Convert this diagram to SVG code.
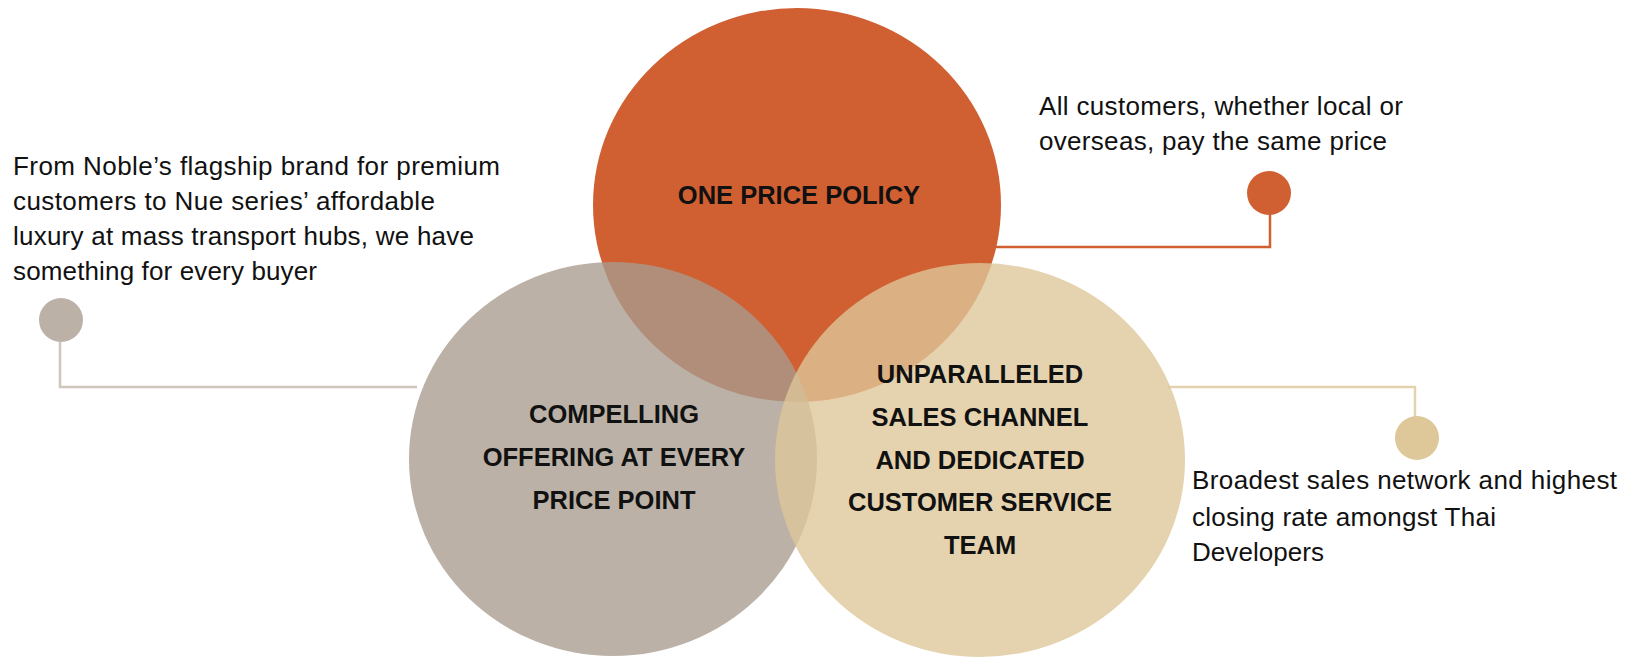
<svg xmlns="http://www.w3.org/2000/svg" width="1627" height="663" viewBox="0 0 1627 663">
<style>
.title{font-family:"Liberation Sans",Arial,sans-serif;font-size:25.5px;font-weight:bold;fill:#111;text-anchor:middle}
.note{font-family:"Liberation Sans",Arial,sans-serif;font-size:26px;fill:#111}
.ln{fill:none;stroke-width:2.5}
</style>
<rect width="1627" height="663" fill="#ffffff"/>
<g id="connectors">
<polyline class="ln" stroke="#CFC6BD" points="60,342 60,387 417,387"/>
<polyline class="ln" stroke="#D06032" points="995,247 1270,247 1270,213"/>
<polyline class="ln" stroke="#E3D2AE" points="1168,387 1415,387 1415,417"/>
</g>
<g id="node-one-price">
<ellipse cx="797" cy="205" rx="204" ry="197" fill="#D06032"/>
<text class="title" x="799" y="204" font-size="28">ONE PRICE POLICY</text>
</g>
<g id="node-compelling">
<ellipse cx="613" cy="459" rx="204" ry="197" fill="#A89B8E" fill-opacity="0.78"/>
<text class="title" x="614" y="423">COMPELLING</text>
<text class="title" x="614" y="466">OFFERING AT EVERY</text>
<text class="title" x="614" y="509">PRICE POINT</text>
</g>
<g id="node-sales">
<ellipse cx="980" cy="460" rx="205" ry="197" fill="#DEC798" fill-opacity="0.78"/>
<text class="title" x="980" y="383">UNPARALLELED</text>
<text class="title" x="980" y="426">SALES CHANNEL</text>
<text class="title" x="980" y="469">AND DEDICATED</text>
<text class="title" x="980" y="511">CUSTOMER SERVICE</text>
<text class="title" x="980" y="554">TEAM</text>
</g>
<g id="callout-left">
<circle cx="61" cy="320" r="22" fill="#BBB1A7"/>
<text class="note" x="13" y="175" textLength="487" lengthAdjust="spacing">From Noble’s flagship brand for premium</text>
<text class="note" x="13" y="210" textLength="422" lengthAdjust="spacing">customers to Nue series’ affordable</text>
<text class="note" x="13" y="245" textLength="461" lengthAdjust="spacing">luxury at mass transport hubs, we have</text>
<text class="note" x="13" y="280" textLength="304" lengthAdjust="spacing">something for every buyer</text>
</g>
<g id="callout-top">
<circle cx="1269" cy="193" r="22" fill="#D06032"/>
<text class="note" x="1039" y="115" textLength="364" lengthAdjust="spacing">All customers, whether local or</text>
<text class="note" x="1039" y="150" textLength="348" lengthAdjust="spacing">overseas, pay the same price</text>
</g>
<g id="callout-right">
<circle cx="1417" cy="438" r="22" fill="#DEC89A"/>
<text class="note" x="1192" y="489" textLength="425" lengthAdjust="spacing">Broadest sales network and highest</text>
<text class="note" x="1192" y="526" textLength="304" lengthAdjust="spacing">closing rate amongst Thai</text>
<text class="note" x="1192" y="561" textLength="132" lengthAdjust="spacing">Developers</text>
</g>
</svg>
